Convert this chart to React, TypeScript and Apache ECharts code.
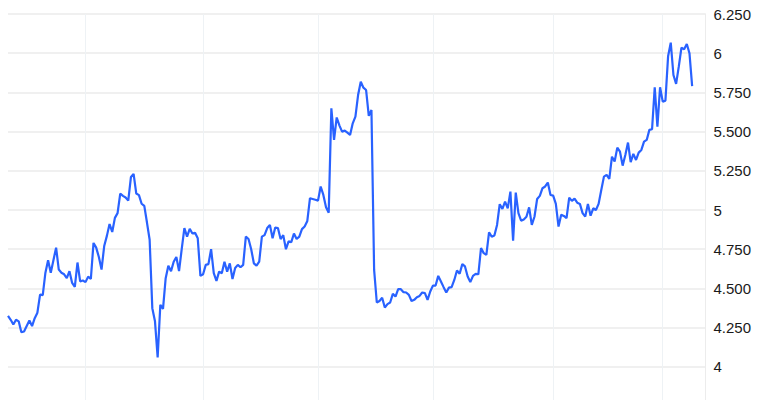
import React, { useEffect, useRef } from "react";
import * as echarts from "echarts";

// Weekly values (oldest to newest)
const values: number[] = [
  4.325, 4.3, 4.27, 4.3, 4.29, 4.22, 4.225, 4.26, 4.295, 4.26,
  4.31, 4.345, 4.46, 4.457, 4.6, 4.68, 4.6, 4.68, 4.76, 4.62,
  4.6, 4.59, 4.565, 4.61, 4.535, 4.51, 4.665, 4.545, 4.55, 4.54,
  4.575, 4.56, 4.79, 4.76, 4.7, 4.62, 4.77, 4.835, 4.91, 4.86,
  4.95, 4.98, 5.105, 5.09, 5.08, 5.06, 5.21, 5.23, 5.105, 5.095,
  5.04, 5.026, 4.92, 4.81, 4.374, 4.29, 4.06, 4.395, 4.37, 4.565,
  4.645, 4.61, 4.67, 4.7, 4.61, 4.75, 4.885, 4.83, 4.88, 4.85,
  4.855, 4.82, 4.58, 4.59, 4.65, 4.655, 4.75, 4.597, 4.548, 4.607,
  4.597, 4.67, 4.607, 4.66, 4.56, 4.63, 4.65, 4.635, 4.65, 4.83,
  4.815, 4.75, 4.66, 4.645, 4.67, 4.83, 4.84, 4.885, 4.905, 4.82,
  4.888, 4.885, 4.815, 4.84, 4.75, 4.8, 4.795, 4.85, 4.815, 4.83,
  4.878, 4.895, 4.93, 5.075, 5.07, 5.065, 5.06, 5.15, 5.096, 5.018,
  4.983, 5.649, 5.447, 5.59, 5.54, 5.5, 5.506, 5.493, 5.479, 5.553,
  5.595, 5.733, 5.818, 5.78, 5.765, 5.6, 5.638, 4.618, 4.41, 4.42,
  4.44, 4.378, 4.4, 4.41, 4.465, 4.448, 4.495, 4.495, 4.476, 4.474,
  4.459, 4.42, 4.427, 4.444, 4.452, 4.474, 4.47, 4.427, 4.48, 4.518,
  4.518, 4.58, 4.544, 4.508, 4.474, 4.505, 4.508, 4.554, 4.614, 4.593,
  4.655, 4.64, 4.576, 4.54, 4.58, 4.593, 4.59, 4.757, 4.725, 4.714,
  4.858, 4.83, 4.837, 4.905, 5.037, 5.007, 5.054, 5.01, 5.117, 4.805,
  5.111, 4.98, 4.932, 4.94, 4.957, 5.017, 4.905, 4.957, 5.07, 5.09,
  5.139, 5.15, 5.175, 5.096, 5.092, 5.039, 4.894, 4.969, 4.962, 4.948,
  5.079, 5.058, 5.073, 5.047, 5.039, 4.98, 4.958, 5.039, 4.964, 5.011,
  5.0, 5.039, 5.128, 5.213, 5.224, 5.198, 5.34, 5.309, 5.398, 5.372,
  5.283, 5.351, 5.43, 5.305, 5.358, 5.319, 5.366, 5.383, 5.436, 5.447,
  5.511, 5.515, 5.783, 5.532, 5.783, 5.691, 5.697, 5.98, 6.067, 5.861,
  5.804, 5.914, 6.035, 6.025, 6.059, 6.0, 5.79,
];

// Empty weeks kept at the right end of the axis
const trailingWeeks = 5;

// Week indices where the vertical separators are drawn
const separatorWeeks: number[] = [29, 73, 116, 159, 204, 245];

// Y axis ticks
const yMin = 3.75;
const yMax = 6.25;
const yStep = 0.25;

const categories: string[] = Array.from(
  { length: values.length + trailingWeeks },
  (_, i) => `W${i + 1}`
);

export default function App() {
  const ref = useRef<HTMLDivElement>(null);

  useEffect(() => {
    if (!ref.current) return;
    document.body.style.margin = "0";
    document.body.style.overflow = "hidden";
    const chart = echarts.init(ref.current, undefined, { renderer: "svg" });
    const sepSet = new Set(separatorWeeks);
    chart.setOption({
      animation: false,
      backgroundColor: "#ffffff",
      grid: { left: 8, right: 64.5, top: 14, bottom: 0, containLabel: false },
      xAxis: {
        type: "category",
        data: categories,
        boundaryGap: false,
        axisLine: { show: false },
        axisTick: { show: false },
        axisLabel: { show: false },
        splitLine: {
          show: true,
          interval: (index: number) => sepSet.has(index),
          lineStyle: { color: "#eef2f5", width: 1 },
        },
      },
      yAxis: {
        type: "value",
        position: "right",
        min: yMin,
        max: yMax,
        interval: yStep,
        axisLine: { show: true, lineStyle: { color: "#ececec", width: 1 } },
        axisTick: { show: false },
        axisLabel: {
          margin: 8,
          color: "#1a1a1a",
          fontSize: 15,
          fontFamily: "'Liberation Sans', Arial, Helvetica, sans-serif",
          formatter: (v: number) => {
            if (v < 4) return "";
            return Math.abs(v - Math.round(v)) < 1e-9 ? String(Math.round(v)) : v.toFixed(3);
          },
        },
        splitLine: { show: true, lineStyle: { color: "#ebebeb", width: 1.5 } },
      },
      series: [
        {
          type: "line",
          data: values,
          showSymbol: false,
          symbol: "none",
          lineStyle: { color: "#2962ff", width: 2.2 },
          itemStyle: { color: "#2962ff" },
        },
      ],
    });
    return () => chart.dispose();
  }, []);

  return (
    <div style={{ width: 770, height: 400, overflow: "hidden" }}>
      <div ref={ref} style={{ width: 770, height: 406 }} />
    </div>
  );
}
